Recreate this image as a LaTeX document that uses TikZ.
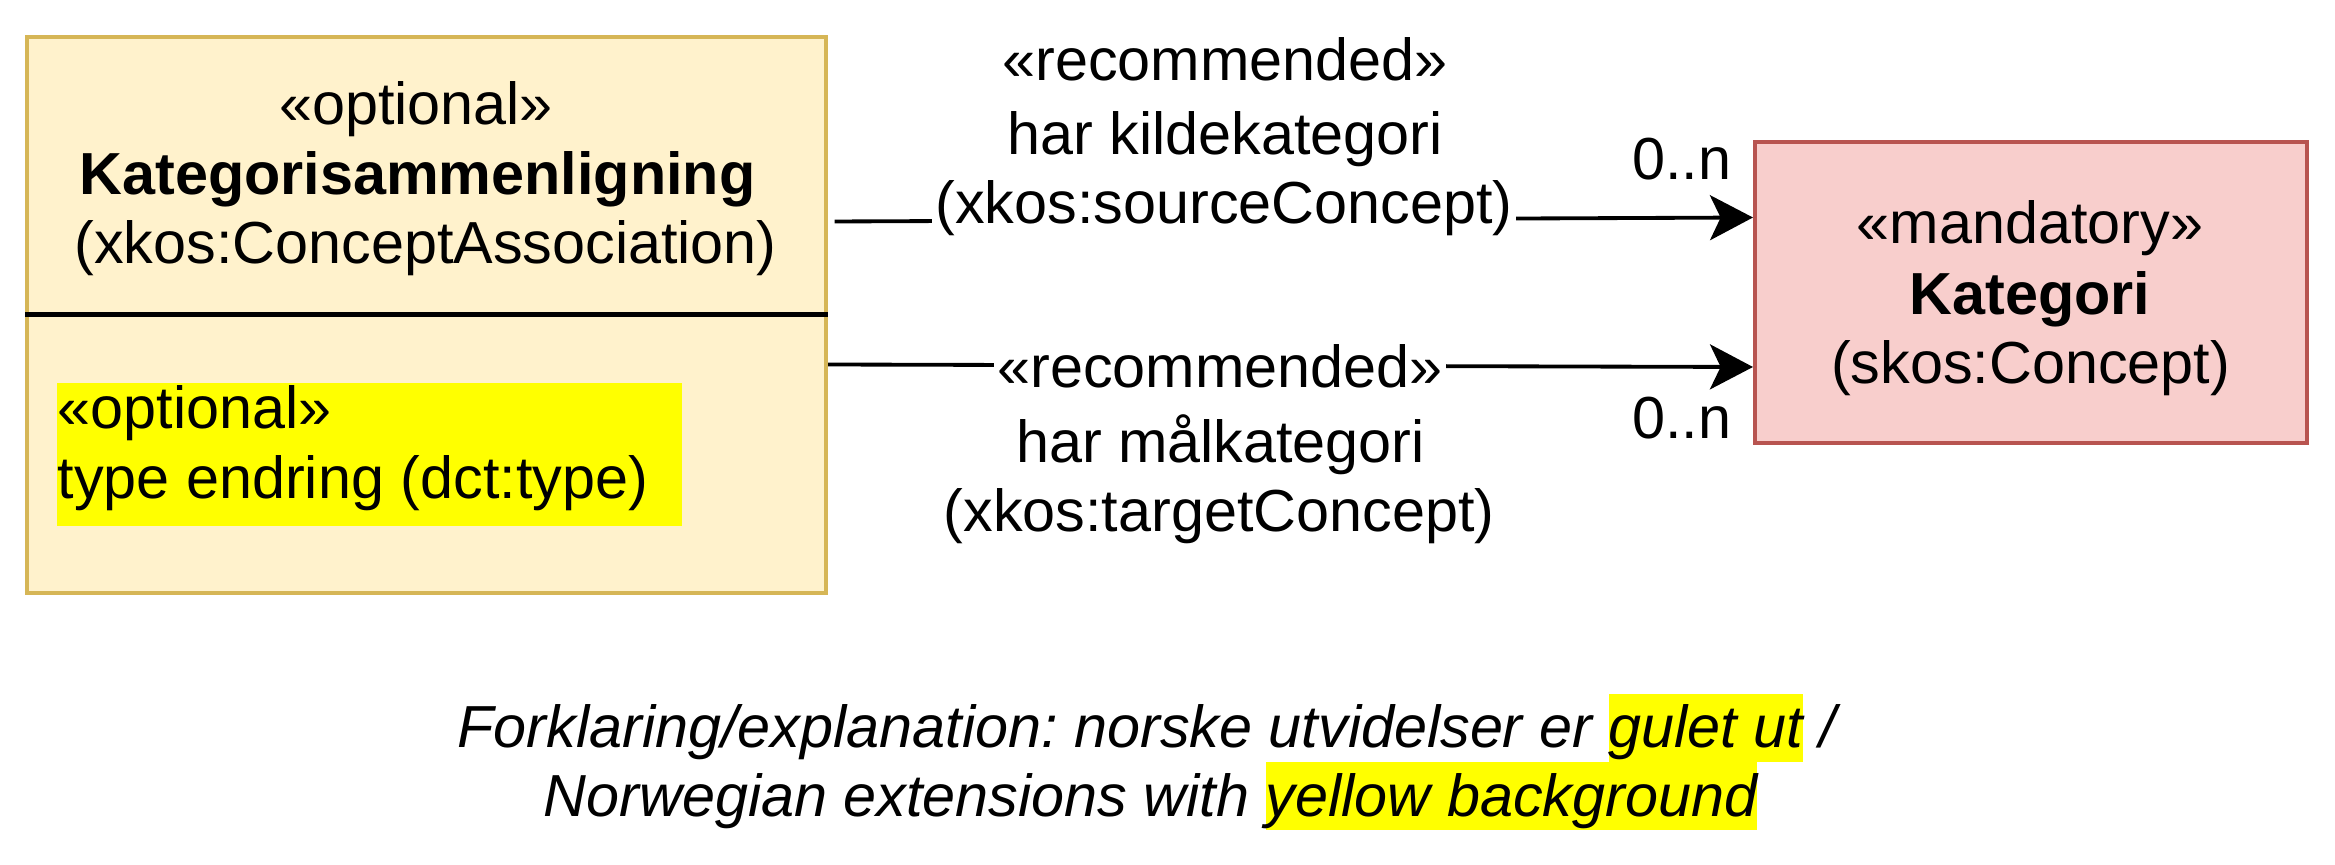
\documentclass[tikz,border=0pt]{standalone}
\usepackage{fontspec}
\setmainfont{Liberation Sans}
\usetikzlibrary{arrows.meta}
\definecolor{optfill}{HTML}{FFF2CC}
\definecolor{optline}{HTML}{D6B656}
\definecolor{manfill}{HTML}{F8CECC}
\definecolor{manline}{HTML}{B85450}
\definecolor{hlyellow}{RGB}{255,255,0}
\frenchspacing
\newcommand{\hlbox}[1]{{\setlength{\fboxsep}{0pt}\colorbox{hlyellow}{\rule[-4.3pt]{0pt}{20.4pt}#1}}}
\begin{document}
\begin{tikzpicture}[x=0.3pt,y=-0.3pt,
  txt/.style={font=\fontsize{17.8}{20.8}\selectfont, inner sep=0pt, anchor=base},
  txtb/.style={txt, font=\fontsize{17.8}{20.8}\selectfont\bfseries},
  txti/.style={txt, font=\fontsize{17.8}{20.8}\selectfont\itshape},
  classbox/.style={draw, line width=1.2pt, inner sep=0pt},
  conn/.style={line width=1.15pt, -{Stealth[length=12.9pt,width=13.5pt,inset=3.2pt]}},
  onlabel/.style={txt, fill=white, inner xsep=1pt}]
\useasboundingbox (0,0) rectangle (2335,865);
% source class
\node[classbox, fill=optfill, draw=optline, minimum width=239.7pt, minimum height=166.8pt] (src) at (426.5,315) {};
\draw[line width=1.3pt] (src.west |- 0,314.5) -- (src.east |- 0,314.5);
\node[fill=hlyellow, inner sep=0pt, minimum width=187.5pt, minimum height=42.9pt] (attrbg) at (369.5,454.5) {};
\node[txt, anchor=base west] (attr1) at (57,429) {«optional»};
\node[txt, anchor=base west] (attr2) at (57,499) {type endring (dct:type)};
\node[txt] (s1) at (416,124.5) {«optional»};
\node[txtb] (s2) at (417.5,195) {Kategorisammenligning};
\node[txt] (s3) at (425.5,264) {(xkos:ConceptAssociation)};
% target class
\node[classbox, fill=manfill, draw=manline, minimum width=165.5pt, minimum height=90.15pt] (tgt) at (2030.8,292.6) {};
\node[txt] (t1) at (2030,244) {«mandatory»};
\node[txtb] (t2) at (2030,315) {Kategori};
\node[txt] (t3) at (2030.7,383.5) {(skos:Concept)};
% connectors
\coordinate (a1s) at ([xshift=2pt]src.east |- 0,221.5);
\coordinate (a2s) at (src.east |- 0,364.5);
\draw[conn] (a1s) -- (tgt.west |- 0,217.5);
\draw[conn] (a2s) -- (tgt.west |- 0,367);
% labels
\node[txt] (l1a) at (1225,80.5) {«recommended»};
\node[txt] (l1b) at (1225,155) {har kildekategori};
\node[onlabel] (l1c) at (1224,224) {(xkos:sourceConcept)};
\node[onlabel] (l2a) at (1220,388) {«recommended»};
\node[txt] (l2b) at (1220.5,462.5) {har målkategori};
\node[txt] (l2c) at (1219,531.5) {(xkos:targetConcept)};
\node[txt, anchor=base east] (m1) at (1732,179.5) {0..n};
\node[txt, anchor=base east] (m2) at (1732,439) {0..n};
% footer
\node[txti] (f1) at (1147,747.5) {Forklaring/explanation: norske utvidelser er \hlbox{gulet ut} /};
\node[txti] (f2) at (1150.5,816) {Norwegian extensions with \hlbox{yellow background}};
\end{tikzpicture}
\end{document}
